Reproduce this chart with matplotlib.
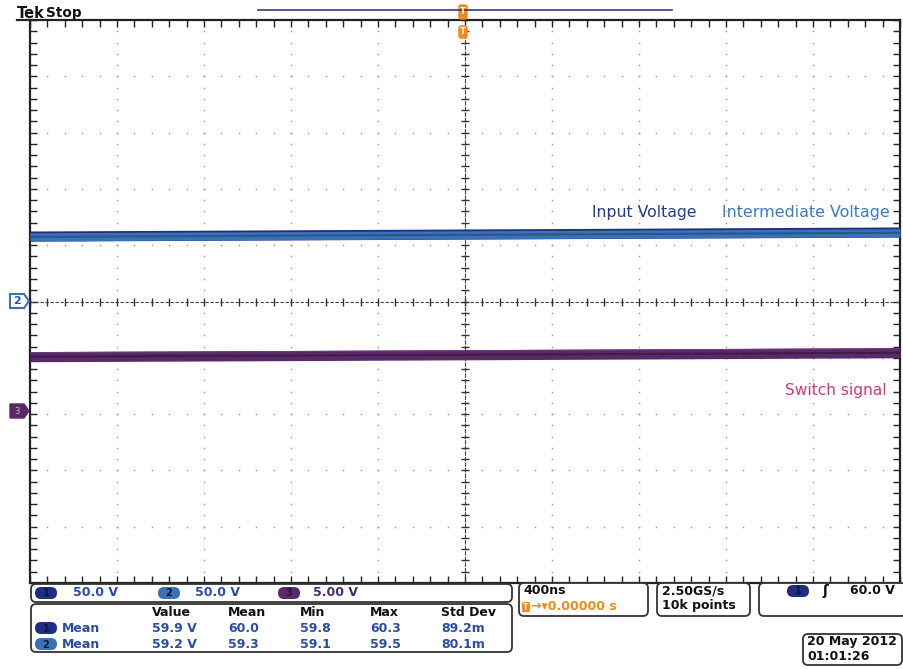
import numpy as np
import matplotlib.pyplot as plt
from matplotlib.patches import FancyBboxPatch, Polygon

# scope setup
time_per_div = 400          # ns
volts_per_div = [50.0, 50.0, 5.0]
ground_div = [0.0, 0.0, -2.0]

# trace levels sampled across the record (ns, volts)
t_ns = [-2000, -1000, 0, 1000, 2000]
ch1_v = [58.1, 59.0, 59.9, 60.8, 61.7]
ch2_v = [57.4, 58.3, 59.2, 60.1, 61.0]
ch3_v = [5.10, 5.18, 5.27, 5.36, 5.45]
ch1_noise = 4.5   # half width of the visible band, volts
ch2_noise = 3.6
ch3_noise = 0.45

# measurement table
meas_cols = ["Value", "Mean", "Min", "Max", "Std Dev"]
meas_ch1 = ["59.9 V", "60.0", "59.8", "60.3", "89.2m"]
meas_ch2 = ["59.2 V", "59.3", "59.1", "59.5", "80.1m"]

navy = '#1f2e80'
blue2 = '#3b72b4'
purple = '#5a2a68'
txt_blue = '#2b4ca6'
orange = '#f08a1c'

W, H = 904, 669
fig = plt.figure(figsize=(W / 100, H / 100), dpi=100)
fig.patch.set_facecolor('white')

# graticule area in pixels
gx0, gx1, gy0, gy1 = 30, 900, 20, 583
ax = fig.add_axes([gx0 / W, 1 - gy1 / H, (gx1 - gx0) / W, (gy1 - gy0) / H])
ax.set_xlim(-5 * time_per_div, 5 * time_per_div)
ax.set_ylim(-5, 5)
minor_x = np.arange(-2000, 2001, time_per_div / 5)
minor_y = np.arange(-5, 5.01, 0.2)
ax.set_xticks(np.arange(-2000, 2001, time_per_div))
ax.set_xticks(minor_x, minor=True)
ax.set_yticks(np.arange(-5, 6, 1))
ax.set_yticks(minor_y, minor=True)
ax.tick_params(which='both', direction='in', top=True, right=True,
               labelbottom=False, labelleft=False, length=5, width=1, color='#222222')
for s in ax.spines.values():
    s.set_linewidth(1.6)
    s.set_color('#222222')

# dotted grid
for gx in np.arange(-1600, 1601, time_per_div):
    if gx != 0:
        ax.plot(np.full_like(minor_y, gx), minor_y, ls='none', marker='s', ms=1.1,
                color='#a0a0a0', mew=0)
for gy in range(-4, 5):
    if gy != 0:
        ax.plot(minor_x, np.full_like(minor_x, gy), ls='none', marker='s', ms=1.1,
                color='#a0a0a0', mew=0)

# centre cross with ticks
ax.axvline(0, color='#444444', lw=0.8, ls=(0, (4, 1)))
ax.axhline(0, color='#444444', lw=0.8, ls=(0, (3, 1.5)))
ax.plot(np.zeros_like(minor_y), minor_y, ls='none', marker='_', ms=6, mew=1, color='#333333')
ax.plot(minor_x, np.zeros_like(minor_x), ls='none', marker='|', ms=6, mew=1, color='#333333')


def to_div(vals, ch, off=0.0):
    return np.array(vals) / volts_per_div[ch] + ground_div[ch] + off / volts_per_div[ch]


t = np.array(t_ns)
ax.fill_between(t, to_div(ch1_v, 0, -ch1_noise), to_div(ch1_v, 0, ch1_noise),
                color=navy, lw=0, zorder=3)
ax.fill_between(t, to_div(ch2_v, 1, -ch2_noise), to_div(ch2_v, 1, ch2_noise),
                color=blue2, lw=0, zorder=4)
ax.plot(t, to_div(ch2_v, 1), color='#2a5590', lw=1.5, zorder=5)
ax.fill_between(t, to_div(ch3_v, 2, -ch3_noise), to_div(ch3_v, 2, ch3_noise),
                color=purple, lw=0, zorder=3)
ax.plot(t, to_div(ch3_v, 2), color='#3e1c4c', lw=1.5, zorder=4)
ax.plot(t, to_div(ch3_v, 2, ch3_noise * 0.8), color='#6b3a78', lw=0.8, zorder=4)

# overlay in pixel coordinates for annotations and panels
ov = fig.add_axes([0, 0, 1, 1])
ov.set_xlim(0, W)
ov.set_ylim(H, 0)
ov.axis('off')
ov.patch.set_alpha(0)

ov.text(17, 13, "Tek", fontsize=10.5, fontweight='bold', color='#111111', va='center')
ov.text(46, 13, "Stop", fontsize=9.8, fontweight='bold', color='#111111', va='center')
ov.plot([17, gx0], [gy0, gy0], color='#222222', lw=1.6)

# record view bar and trigger markers
ov.plot([258, 672], [10, 10], color='#3a3a78', lw=1.2)
for cy, h in [(12, 14), (32, 12)]:
    ov.add_patch(FancyBboxPatch((459, cy - h / 2), 8, h,
                                boxstyle='round,pad=0,rounding_size=2', fc=orange, ec=orange))
    ov.text(463, cy, "T", fontsize=6, fontweight='bold', color='white', ha='center', va='center')

# channel ground markers
ov.add_patch(Polygon([[10, 294], [24, 294], [29, 301], [24, 308], [10, 308]], closed=True,
                     fc='white', ec=blue2, lw=1.5))
ov.text(17, 301.5, "2", fontsize=8, fontweight='bold', color='#2a5aa8', ha='center', va='center')
ov.add_patch(Polygon([[10, 404], [24, 404], [29, 411], [24, 418], [10, 418]], closed=True,
                     fc=purple, ec=purple, lw=1))
ov.text(17, 411.5, "3", fontsize=6, color='#c8b8d0', ha='center', va='center')

# trace labels
ov.text(592, 212, "Input Voltage", fontsize=11.3, color='#22389a', va='center')
ov.text(722, 212, "Intermediate Voltage", fontsize=11.4, color='#3a7ac4', va='center')
ov.text(785, 391, "Switch signal", fontsize=11.1, color='#d03a6c', va='center')


def box(x0, y0, x1, y1, r=5):
    ov.add_patch(FancyBboxPatch((x0, y0), x1 - x0, y1 - y0,
                                boxstyle=f'round,pad=0,rounding_size={r}',
                                fc='white', ec='#333333', lw=1.3))


def badge(cx, cy, label, fc, tc='#0d1440'):
    ov.add_patch(FancyBboxPatch((cx - 11, cy - 6), 22, 12,
                                boxstyle='round,pad=0,rounding_size=6', fc=fc, ec='none'))
    ov.text(cx, cy + 0.5, label, fontsize=7, fontweight='bold', color=tc, ha='center', va='center')


# vertical settings panel
box(31, 584, 512, 602)
badge(46, 593, "1", navy)
ov.text(73, 593, "50.0 V", fontsize=9, fontweight='bold', color=txt_blue, va='center')
badge(169, 593, "2", blue2)
ov.text(195, 593, "50.0 V", fontsize=9, fontweight='bold', color=txt_blue, va='center')
badge(289, 593, "3", purple, '#2a0f35')
ov.text(313, 593, "5.00 V", fontsize=9, fontweight='bold', color='#4a2a72', va='center')

# measurement panel
box(31, 604, 512, 652)
col_x = [152, 228, 300, 370, 441]
for x, c in zip(col_x, meas_cols):
    ov.text(x, 612, c, fontsize=9, fontweight='bold', color='#111111', va='center')
for y, lab, vals, fc in [(628, "1", meas_ch1, navy), (644, "2", meas_ch2, blue2)]:
    badge(46, y, lab, fc)
    ov.text(62, y, "Mean", fontsize=9, fontweight='bold', color=txt_blue, va='center')
    for x, v in zip(col_x, vals):
        ov.text(x, y, v, fontsize=9, fontweight='bold', color=txt_blue, va='center')

# horizontal panel
box(519, 583, 648, 616)
ov.text(523, 591, "400ns", fontsize=9, fontweight='bold', color='#111111', va='center')
ov.add_patch(FancyBboxPatch((522, 602), 8, 10, boxstyle='round,pad=0,rounding_size=1.5',
                            fc=orange, ec='none'))
ov.text(526, 607.5, "T", fontsize=5.5, fontweight='bold', color='white', ha='center', va='center')
ov.text(531, 607, "\u2192\u25be0.00000 s", fontsize=9, fontweight='bold', color=orange, va='center')

# acquisition panel
box(657, 583, 750, 616)
ov.text(662, 591, "2.50GS/s", fontsize=9, fontweight='bold', color='#111111', va='center')
ov.text(662, 606, "10k points", fontsize=9, fontweight='bold', color='#111111', va='center')

# trigger panel
box(759, 583, 906, 616)
badge(798, 591, "1", navy)
ov.text(823, 591, "\u0283", fontsize=10, fontweight='bold', color='#111111', va='center')
ov.text(895, 591, "60.0 V", fontsize=9, fontweight='bold', color='#111111', va='center', ha='right')

# date panel
box(803, 634, 902, 665)
ov.text(807, 642, "20 May 2012", fontsize=9, fontweight='bold', color='#111111', va='center')
ov.text(807, 657, "01:01:26", fontsize=9, fontweight='bold', color='#111111', va='center')

fig.savefig('out.png', dpi=100)
